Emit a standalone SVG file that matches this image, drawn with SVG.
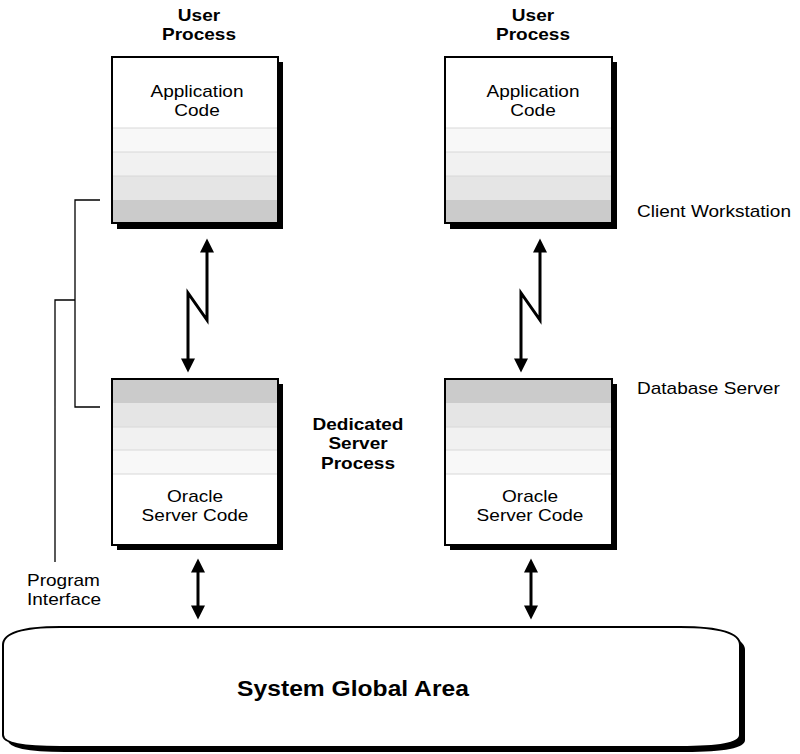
<svg xmlns="http://www.w3.org/2000/svg" width="800" height="754" viewBox="0 0 800 754">
<style>
text{font-family:"Liberation Sans",Arial,sans-serif;fill:#000}
.t{font-size:17px}
.b{font-size:17px;font-weight:bold}
.big{font-size:22px;font-weight:bold}
.frame{fill:none;stroke:#000;stroke-width:2}
.shadow{fill:#000}
.s1{fill:#f8f8f8}
.s2{fill:#f1f1f1}
.s3{fill:#e5e5e5}
.s4{fill:#cbcbcb}
.sep{stroke:#d8d8d8;stroke-width:1}
.conn{fill:none;stroke:#000;stroke-width:3}
.br{fill:none;stroke:#000;stroke-width:1.3}
</style>
<defs>
<marker id="ah" viewBox="0 0 10 10" refX="6.7" refY="5" markerUnits="userSpaceOnUse" markerWidth="15" markerHeight="14" orient="auto-start-reverse">
<path d="M0,0 L10,5 L0,10 z" fill="#000"/>
</marker>
</defs>
<rect width="800" height="754" fill="#fff"/>

<g id="label-user-left">
<text class="b" text-anchor="middle" transform="translate(199,21) scale(1.12,1)">User</text>
<text class="b" text-anchor="middle" transform="translate(199,40) scale(1.12,1)">Process</text>
</g>
<g id="label-user-right">
<text class="b" text-anchor="middle" transform="translate(533,21) scale(1.12,1)">User</text>
<text class="b" text-anchor="middle" transform="translate(533,40) scale(1.12,1)">Process</text>
</g>

<g id="app-left">
<rect class="shadow" x="117" y="62" width="166" height="167"/>
<rect x="112" y="57" width="166" height="166" fill="#fff"/>
<rect class="s1" x="112" y="128" width="166" height="24"/>
<rect class="s2" x="112" y="152" width="166" height="24"/>
<rect class="s3" x="112" y="176" width="166" height="24"/>
<rect class="s4" x="112" y="200" width="166" height="23"/>
<line class="sep" x1="113" y1="128" x2="277" y2="128"/>
<line class="sep" x1="113" y1="152" x2="277" y2="152"/>
<line class="sep" x1="113" y1="176" x2="277" y2="176"/>
<rect class="frame" x="112" y="57" width="166" height="166"/>
<text class="t" text-anchor="middle" transform="translate(197,97) scale(1.12,1)">Application</text>
<text class="t" text-anchor="middle" transform="translate(197,116) scale(1.12,1)">Code</text>
</g>

<g id="app-right">
<rect class="shadow" x="450" y="62" width="167" height="167"/>
<rect x="445" y="57" width="167" height="166" fill="#fff"/>
<rect class="s1" x="445" y="128" width="167" height="24"/>
<rect class="s2" x="445" y="152" width="167" height="24"/>
<rect class="s3" x="445" y="176" width="167" height="24"/>
<rect class="s4" x="445" y="200" width="167" height="23"/>
<line class="sep" x1="446" y1="128" x2="611" y2="128"/>
<line class="sep" x1="446" y1="152" x2="611" y2="152"/>
<line class="sep" x1="446" y1="176" x2="611" y2="176"/>
<rect class="frame" x="445" y="57" width="167" height="166"/>
<text class="t" text-anchor="middle" transform="translate(533,97) scale(1.12,1)">Application</text>
<text class="t" text-anchor="middle" transform="translate(533,116) scale(1.12,1)">Code</text>
</g>

<g id="server-left">
<rect class="shadow" x="117" y="384" width="166" height="166"/>
<rect x="112" y="379" width="166" height="166" fill="#fff"/>
<rect class="s4" x="112" y="379" width="166" height="24"/>
<rect class="s3" x="112" y="403" width="166" height="24"/>
<rect class="s2" x="112" y="427" width="166" height="23"/>
<rect class="s1" x="112" y="450" width="166" height="24"/>
<line class="sep" x1="113" y1="427" x2="277" y2="427"/>
<line class="sep" x1="113" y1="450" x2="277" y2="450"/>
<line class="sep" x1="113" y1="474" x2="277" y2="474"/>
<rect class="frame" x="112" y="379" width="166" height="166"/>
<text class="t" text-anchor="middle" transform="translate(195,502) scale(1.12,1)">Oracle</text>
<text class="t" text-anchor="middle" transform="translate(195,521) scale(1.12,1)">Server Code</text>
</g>

<g id="server-right">
<rect class="shadow" x="450" y="384" width="167" height="166"/>
<rect x="445" y="379" width="167" height="166" fill="#fff"/>
<rect class="s4" x="445" y="379" width="167" height="24"/>
<rect class="s3" x="445" y="403" width="167" height="24"/>
<rect class="s2" x="445" y="427" width="167" height="23"/>
<rect class="s1" x="445" y="450" width="167" height="24"/>
<line class="sep" x1="446" y1="427" x2="611" y2="427"/>
<line class="sep" x1="446" y1="450" x2="611" y2="450"/>
<line class="sep" x1="446" y1="474" x2="611" y2="474"/>
<rect class="frame" x="445" y="379" width="167" height="166"/>
<text class="t" text-anchor="middle" transform="translate(530,502) scale(1.12,1)">Oracle</text>
<text class="t" text-anchor="middle" transform="translate(530,521) scale(1.12,1)">Server Code</text>
</g>

<g id="label-dedicated">
<text class="b" text-anchor="middle" transform="translate(358,430) scale(1.12,1)">Dedicated</text>
<text class="b" text-anchor="middle" transform="translate(358,449) scale(1.12,1)">Server</text>
<text class="b" text-anchor="middle" transform="translate(358,469) scale(1.12,1)">Process</text>
</g>

<g id="label-client">
<text class="t" transform="translate(637,217) scale(1.12,1)">Client Workstation</text>
</g>
<g id="label-dbserver">
<text class="t" transform="translate(637,394) scale(1.12,1)">Database Server</text>
</g>

<g id="label-program-interface">
<text class="t" transform="translate(27,586) scale(1.12,1)">Program</text>
<text class="t" transform="translate(27,605) scale(1.12,1)">Interface</text>
</g>

<g id="sga">
<path d="M8,650 Q8,632 65,632 L685,632 Q745,632 745,650 L745,740 Q745,752 685,752 L65,752 Q8,752 8,740 Z" fill="#000"/>
<path d="M3,645 Q3,627 60,627 L680,627 Q740,627 740,645 L740,735 Q740,747 680,747 L60,747 Q3,747 3,735 Z" fill="#fff" stroke="#000" stroke-width="2"/>
<text class="big" text-anchor="middle" transform="translate(353,696) scale(1.12,1)">System Global Area</text>
</g>

<g id="connectors">
<path class="br" d="M100,200 L75,200 L75,407 L100,407 M75,300 L55,300 L55,562"/>
<path class="conn" d="M207,243 L207,320 L188,293 L188,368" marker-start="url(#ah)" marker-end="url(#ah)"/>
<path class="conn" d="M540,243 L540,320 L521,293 L521,368" marker-start="url(#ah)" marker-end="url(#ah)"/>
<path class="conn" d="M198,563 L198,615" marker-start="url(#ah)" marker-end="url(#ah)"/>
<path class="conn" d="M531,563 L531,615" marker-start="url(#ah)" marker-end="url(#ah)"/>
</g>
</svg>
